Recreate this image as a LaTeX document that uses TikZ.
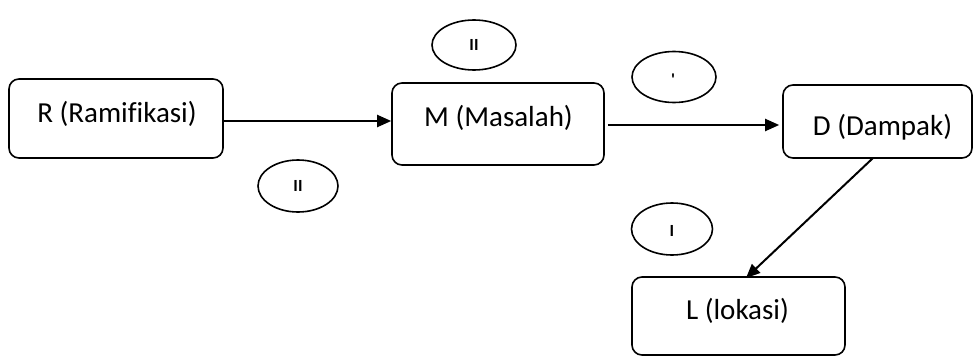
\documentclass[tikz,border=0pt]{standalone}
\usepackage{fontspec}
\setmainfont[Ligatures=CommonOff]{Carlito}
\usetikzlibrary{arrows.meta,shapes.geometric}
\begin{document}
\begin{tikzpicture}[x=1pt,y=-1pt,
  box/.style={draw=black,line width=1.6pt,rounded corners=10pt,inner sep=0pt},
  boxtext/.style={font=\fontsize{29}{32}\selectfont,inner sep=0pt},
  oval/.style={draw=black,line width=1.6pt,ellipse,inner sep=0pt},
  ovaltext/.style={font=\fontsize{17}{19}\selectfont\bfseries,inner sep=0pt},
  link/.style={line width=2pt,-{Triangle[length=14pt,width=12pt]}}]
\useasboundingbox (0,0) rectangle (974,356);
% boxes
\node[box,minimum width=214pt,minimum height=79pt] (r) at (116,118.5) {};
\node[box,minimum width=212pt,minimum height=82pt] (m) at (498,124) {};
\node[box,minimum width=189pt,minimum height=73pt] (d) at (877.5,121.5) {};
\node[box,minimum width=213pt,minimum height=78pt] (l) at (738.5,316) {};
\node[boxtext] (rt) at (117,113.5) {R (Ramifikasi)};
\node[boxtext] (mt) at (498.5,118) {M (Masalah)};
\node[boxtext] (dt) at (882.5,127) {D (Dampak)};
\node[boxtext] (lt) at (737.5,310.5) {L (lokasi)};
% ovals
\node[oval,minimum width=84pt,minimum height=50pt] (o1) at (474,45) {};
\node[oval,minimum width=84pt,minimum height=51pt] (o2) at (674,77) {};
\node[oval,minimum width=80pt,minimum height=52pt] (o3) at (298,186) {};
\node[oval,minimum width=81pt,minimum height=52pt] (o4) at (672,229) {};
\node[ovaltext] (o1t) at (474,45) {II};
\node[ovaltext] (o2t) at (673,80) {\textquotesingle};
\node[ovaltext] (o3t) at (298,186) {II};
\node[ovaltext] (o4t) at (672,231) {I};
% connectors
\coordinate (rm) at (392,121);
\coordinate (md) at (781,125);
\coordinate (ds) at (873,158);
\coordinate (lt0) at (746,278);
\draw[link] (r.east |- rm) -- (rm -| m.west);
\draw[link] ([xshift=3pt]m.east |- md) -- ([xshift=-3pt]md -| d.west);
\draw[link] (ds) -- (lt0);
\end{tikzpicture}
\end{document}
